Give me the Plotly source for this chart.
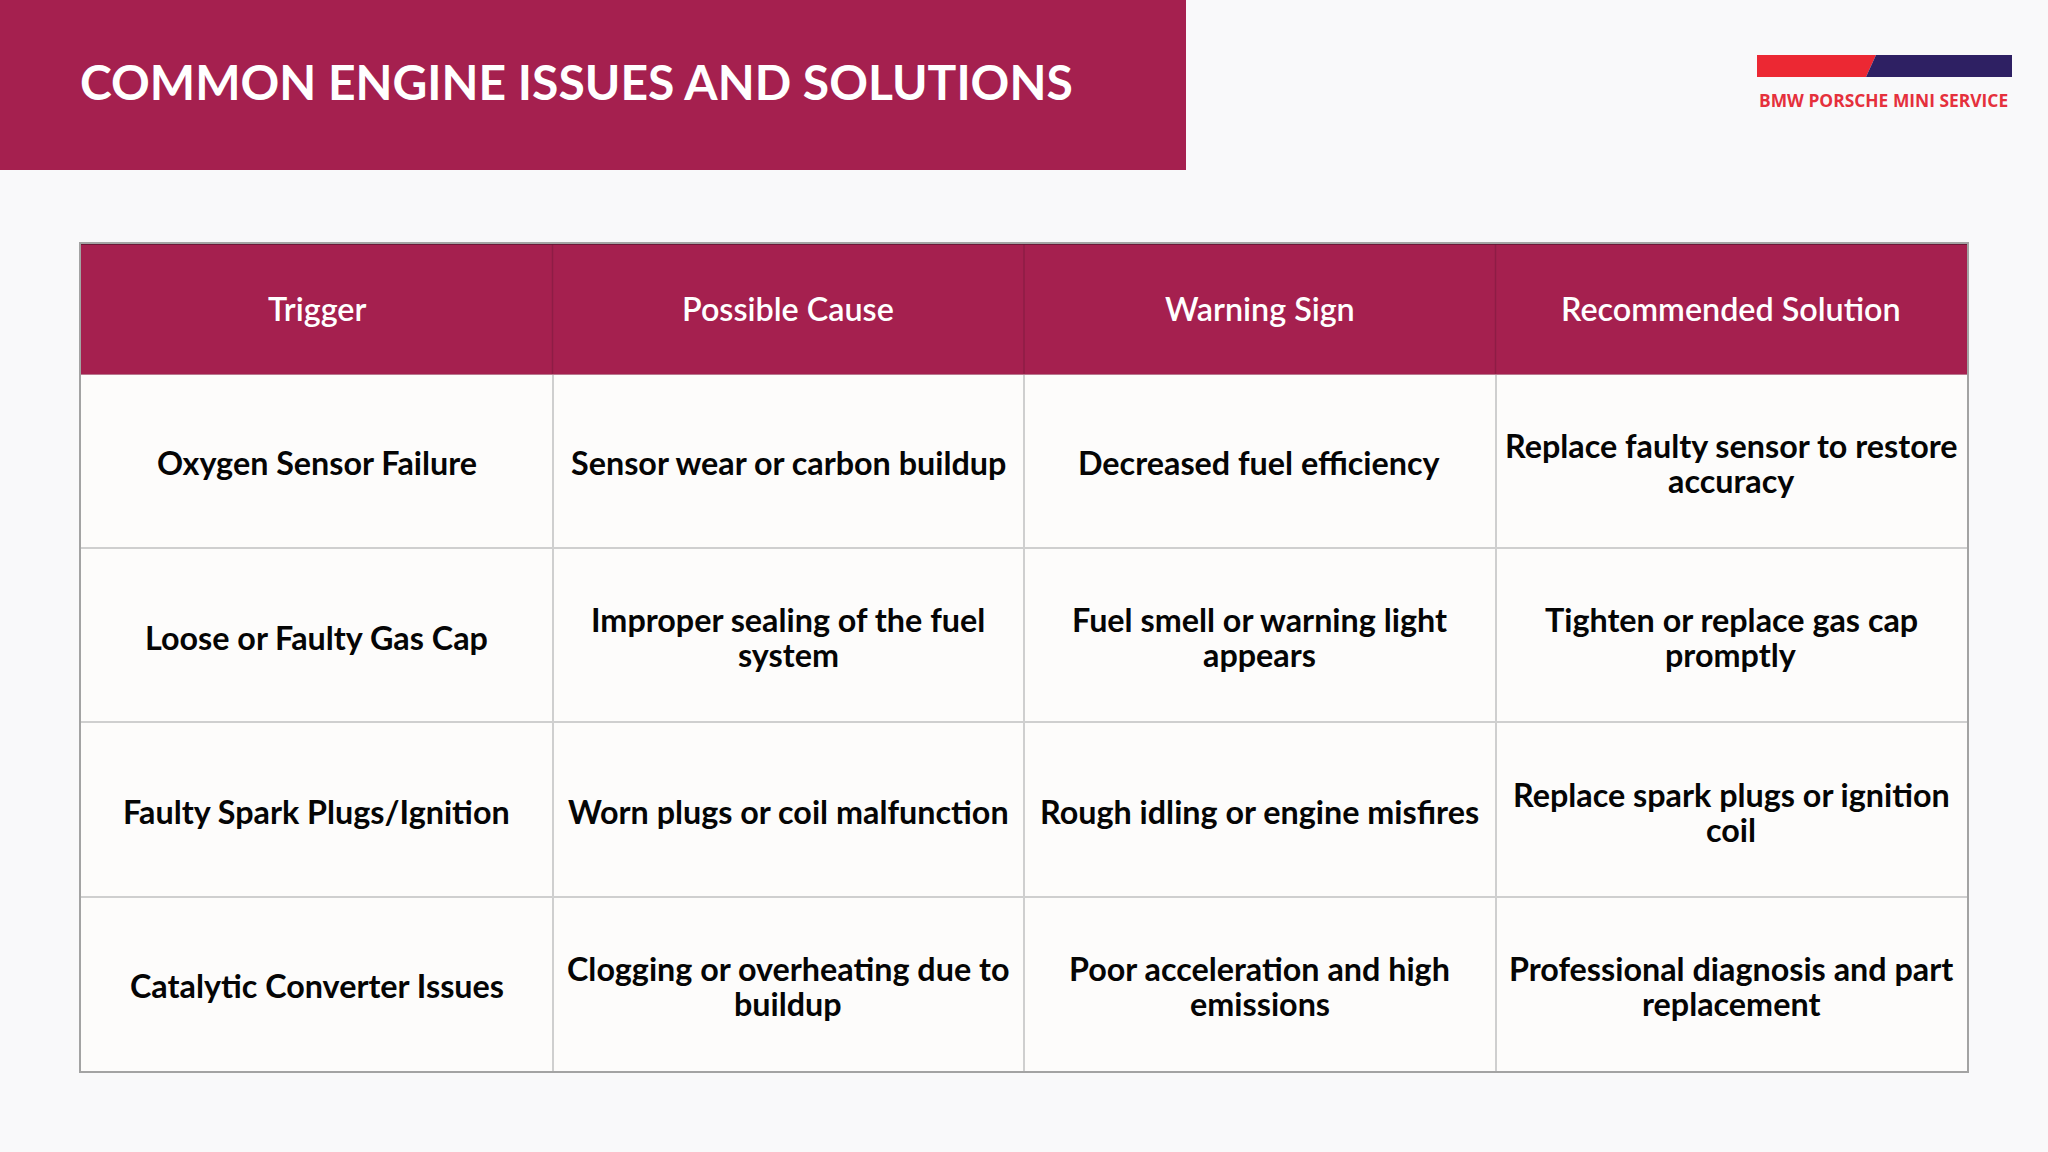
import plotly.graph_objects as go

# table content
headers = ["Trigger", "Possible Cause", "Warning Sign", "Recommended Solution"]
triggers = ["Oxygen Sensor Failure", "Loose or Faulty Gas Cap", "Faulty Spark Plugs/Ignition", "Catalytic Converter Issues"]
causes = ["Sensor wear or carbon buildup", "Improper sealing of the fuel\nsystem", "Worn plugs or coil malfunction", "Clogging or overheating due to\nbuildup"]
signs = ["Decreased fuel efficiency", "Fuel smell or warning light\nappears", "Rough idling or engine misfires", "Poor acceleration and high\nemissions"]
solutions = ["Replace faulty sensor to restore\naccuracy", "Tighten or replace gas cap\npromptly", "Replace spark plugs or ignition\ncoil", "Professional diagnosis and part\nreplacement"]
columns = [triggers, causes, signs, solutions]

W, H = 2048, 1152
CRIMSON = "#A5204F"
HEADER_ROWS = 0.745  # header height in body-row units

fig = go.Figure()


def add_cell(col, y, text, color, size, weight, nudge):
    lines = text.split("\n")
    for i, line in enumerate(lines):
        fig.add_annotation(
            x=col + 0.5, y=y, xref="x", yref="y", text=line, showarrow=False,
            yshift=(len(lines) - 1) * 17.5 - i * 35 + nudge,
            font=dict(family="Lato", size=size, color=color, weight=weight),
        )


# invisible trace so the axes exist with the table's scale
fig.add_trace(go.Scatter(x=[0, 4], y=[0, 4], mode="none", hoverinfo="skip", showlegend=False))

for c, head in enumerate(headers):
    add_cell(c, -HEADER_ROWS / 2, head, "#FFFFFF", 32.3, 600, 0)
    for r, cell in enumerate(columns[c]):
        add_cell(c, r + 0.5, cell, "#050505", 32.3, 700, -2)

# header band over the grid
fig.add_shape(type="rect", xref="x", yref="y", x0=0, x1=4, y0=-HEADER_ROWS, y1=0,
              fillcolor=CRIMSON, line=dict(color=CRIMSON, width=1.5))
for c in range(1, 4):
    fig.add_shape(type="line", xref="x", yref="y", x0=c, x1=c, y0=-HEADER_ROWS, y1=0,
                  line=dict(color="#8E1C45", width=1.5))
fig.add_shape(type="line", xref="x", yref="y", x0=0, x1=4, y0=-HEADER_ROWS, y1=-HEADER_ROWS,
              line=dict(color="#5A1530", width=1.5))

# title band
fig.add_shape(type="rect", xref="paper", yref="paper", x0=0, x1=1186 / W, y0=1 - 170 / H, y1=1,
              fillcolor=CRIMSON, line_width=0)
fig.add_annotation(xref="paper", yref="paper", x=78 / W, y=1 - 81 / H, xanchor="left", yanchor="middle",
                   showarrow=False, text="COMMON ENGINE ISSUES AND SOLUTIONS",
                   font=dict(family="Lato", size=48, color="#FFFFFF", weight=700))

# logo
fig.add_shape(type="path", xref="paper", yref="paper", line_width=0, fillcolor="#EC2833",
              path=f"M {1757/W} {1-55/H} L {1876/W} {1-55/H} L {1866/W} {1-77/H} L {1757/W} {1-77/H} Z")
fig.add_shape(type="path", xref="paper", yref="paper", line_width=0, fillcolor="#2E2063",
              path=f"M {1876/W} {1-55/H} L {2012/W} {1-55/H} L {2012/W} {1-77/H} L {1866/W} {1-77/H} Z")
fig.add_annotation(xref="paper", yref="paper", x=1883 / W, y=1 - 100 / H, xanchor="center", yanchor="middle",
                   showarrow=False, text="BMW PORSCHE MINI SERVICE",
                   font=dict(family="Open Sans", size=17.4, color="#E5303C", weight=700))

fig.update_xaxes(domain=[81 / W, 1967 / W], range=[0, 4], dtick=1, showticklabels=False, ticks="",
                 showgrid=True, gridcolor="#CFCFCF", gridwidth=1.5, zeroline=False,
                 showline=True, mirror=True, linecolor="#A3A3A3", linewidth=1.5)
fig.update_yaxes(domain=[1 - 1071 / H, 1 - 244 / H], range=[4, -HEADER_ROWS], tick0=0, dtick=1,
                 showticklabels=False, ticks="", showgrid=True, gridcolor="#CFCFCF", gridwidth=1.5,
                 zeroline=False, showline=True, mirror=True, linecolor="#A3A3A3", linewidth=1.5)
fig.update_layout(width=W, height=H, margin=dict(l=0, r=0, t=0, b=0),
                  paper_bgcolor="#F9F9FA", plot_bgcolor="#FDFCFB", showlegend=False)

fig.write_html("out.html", config={"displayModeBar": False},
               post_script="document.body.style.margin='0';")
